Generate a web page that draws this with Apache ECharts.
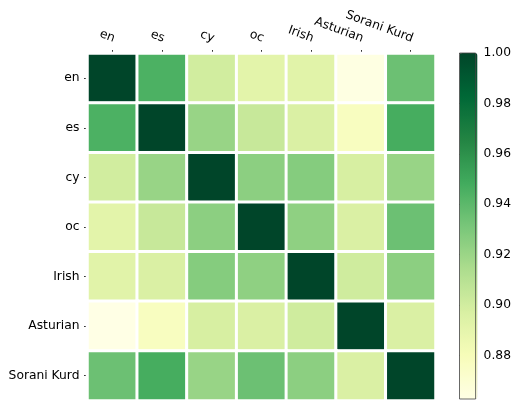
<!DOCTYPE html>
<html>
<head>
<meta charset="utf-8">
<script src="https://cdn.jsdelivr.net/npm/echarts@6/dist/echarts.min.js"></script>
<style>
html,body{margin:0;padding:0;background:#fff;}
#chart{width:514px;height:401px;}
</style>
</head>
<body>
<div id="chart"></div>
<script>
const categories = ['en', 'es', 'cy', 'oc', 'Irish', 'Asturian', 'Sorani Kurd'];
const rowEn       = [1.000, 0.945, 0.900, 0.8915, 0.8925, 0.864, 0.935];
const rowEs       = [0.945, 1.000, 0.921, 0.904, 0.8966, 0.877, 0.947];
const rowCy       = [0.900, 0.921, 1.000, 0.925, 0.927, 0.898, 0.921];
const rowOc       = [0.8915, 0.904, 0.925, 1.000, 0.924, 0.8966, 0.935];
const rowIrish    = [0.8925, 0.8966, 0.927, 0.924, 1.000, 0.901, 0.925];
const rowAsturian = [0.8627, 0.877, 0.898, 0.8966, 0.901, 1.000, 0.8966];
const rowKurd     = [0.935, 0.947, 0.921, 0.935, 0.925, 0.8966, 1.000];
const colorbarTicks = [0.88, 0.90, 0.92, 0.94, 0.96, 0.98, 1.00];
const valueMin = 0.8627;
const valueMax = 1.0;

const rows = [rowEn, rowEs, rowCy, rowOc, rowIrish, rowAsturian, rowKurd];
const data = [];
rows.forEach((row, yi) => row.forEach((v, xi) => data.push([xi, yi, v])));

const FONT = 'DejaVu Sans';
const FS = 12.3;
const YlGn = ['#ffffe5', '#f7fcb9', '#d9f0a3', '#addd8e', '#78c679', '#41ab5d', '#238443', '#006837', '#004529'];

const chart = echarts.init(document.getElementById('chart'), null, {renderer: 'canvas'});
chart.setOption({
  animation: false,
  backgroundColor: '#fff',
  textStyle: {fontFamily: FONT},
  grid: [
    {left: 87.5, right: 78.5, top: 53.5, bottom: 0.5, containLabel: false},
    {left: 459.5, top: 53, width: 18, height: 346, show: true, z: 10,
     borderColor: '#444', borderWidth: 0.8, backgroundColor: 'transparent'}
  ],
  xAxis: [
    {type: 'category', gridIndex: 0, data: categories, position: 'top',
     axisLine: {show: false},
     axisTick: {show: true, alignWithLabel: true, length: 3.5, lineStyle: {color: '#000', width: 0.8}},
     axisLabel: {rotate: 20, align: 'right', verticalAlign: 'bottom', margin: 9,
                 color: '#000', fontFamily: FONT, fontSize: FS, interval: 0},
     splitLine: {show: false}},
    {type: 'value', gridIndex: 1, show: false, min: 0, max: 1}
  ],
  yAxis: [
    {type: 'category', gridIndex: 0, data: categories, inverse: true,
     axisLine: {show: false},
     axisTick: {show: true, alignWithLabel: true, length: 3.5, lineStyle: {color: '#000', width: 0.8}},
     axisLabel: {margin: 8, color: '#000', fontFamily: FONT, fontSize: FS, interval: 0},
     splitLine: {show: false}},
    {type: 'value', gridIndex: 1, position: 'right', min: valueMin, max: valueMax,
     axisLine: {show: false},
     splitLine: {show: false},
     axisTick: {show: true, length: 3.5, customValues: colorbarTicks, lineStyle: {color: '#000', width: 0.8}},
     axisLabel: {show: true, margin: 8, customValues: colorbarTicks, color: '#000', fontFamily: FONT, fontSize: FS,
                 formatter: v => v.toFixed(2)}}
  ],
  visualMap: {
    type: 'continuous', seriesIndex: 0, min: valueMin, max: valueMax,
    calculable: false, orient: 'vertical', left: 459.5, top: 53, padding: 0,
    itemWidth: 18, itemHeight: 346, text: null, showLabel: false,
    inRange: {color: YlGn}
  },
  series: [{
    type: 'heatmap', xAxisIndex: 0, yAxisIndex: 0, data: data,
    itemStyle: {borderColor: '#fff', borderWidth: 3},
    emphasis: {disabled: true}
  }]
});
</script>
</body>
</html>
